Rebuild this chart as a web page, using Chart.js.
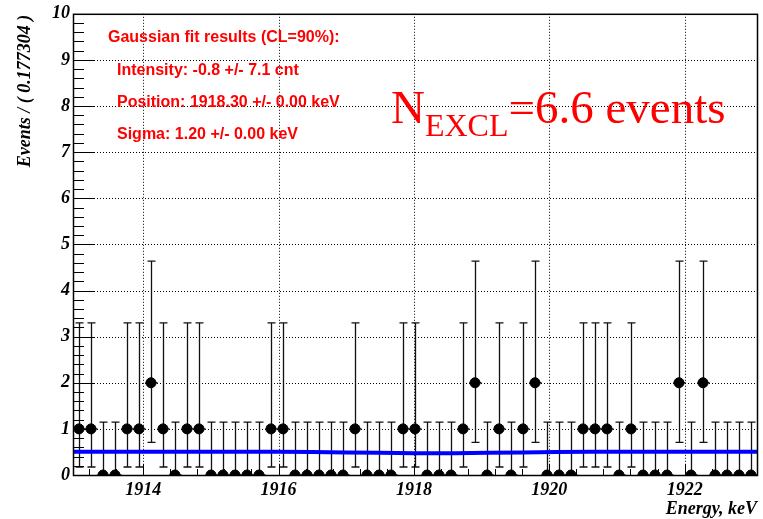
<!DOCTYPE html>
<html>
<head>
<meta charset="utf-8">
<script src="https://cdn.jsdelivr.net/npm/chart.js@4.4.1/dist/chart.umd.min.js"></script>
<style>
  html, body { margin: 0; padding: 0; background: #fff; }
  #wrap { width: 763px; height: 519px; }
</style>
</head>
<body>
<div id="wrap"><canvas id="spectrum" width="763" height="519"></canvas></div>
<script>
// binning of the energy spectrum
const binLow = 1912.963;
const binWidth = 0.177304;
const counts = [1, 1, 0, 0, 1, 1, 2, 1, 0, 1, 1, 0, 0, 0, 0, 0, 1, 1, 0, 0,
                0, 0, 0, 1, 0, 0, 0, 1, 1, 0, 0, 0, 1, 2, 0, 1, 0, 1, 2, 0,
                0, 0, 1, 1, 1, 0, 1, 0, 0, 0, 2, 0, 2, 0, 0, 0, 0];

// 68% Poisson interval for n = 0, 1, 2
const poissonLow = [0, 0.173, 0.708];
const poissonHigh = [1.148, 3.300, 4.638];

// fitted background + gaussian
const fitEnergy = [1912.963, 1916.0, 1916.5, 1917.0, 1917.5, 1918.0, 1918.3, 1918.6, 1919.1, 1919.6, 1920.1, 1920.6, 1923.069];
const fitLevel  = [0.505, 0.503, 0.498, 0.490, 0.480, 0.472, 0.470, 0.472, 0.480, 0.490, 0.498, 0.503, 0.505];

const xMajor = [1914, 1916, 1918, 1920, 1922];
const xMinorStep = 0.4;
const yMajor = [0, 1, 2, 3, 4, 5, 6, 7, 8, 9, 10];
const yMinorStep = 0.2;

const points = counts.map((n, i) => ({ x: binLow + (i + 0.5) * binWidth, y: n }));
const fitPoints = fitEnergy.map((e, i) => ({ x: e, y: fitLevel[i] }));

const axisFont = { family: 'Liberation Serif', style: 'italic', weight: 'bold', size: 18 };

const rootFrame = {
    id: 'rootFrame',
    beforeDatasetsDraw(chart) {
        const { ctx, chartArea: a, scales: { x, y } } = chart;
        ctx.save();
        // dotted grid
        ctx.strokeStyle = '#000';
        ctx.lineWidth = 1;
        ctx.setLineDash([1, 2]);
        ctx.beginPath();
        xMajor.forEach(v => {
            const px = Math.round(x.getPixelForValue(v)) + 0.5;
            ctx.moveTo(px, a.top);
            ctx.lineTo(px, a.bottom);
        });
        yMajor.slice(1, -1).forEach(v => {
            const py = Math.round(y.getPixelForValue(v)) + 0.5;
            ctx.moveTo(a.left, py);
            ctx.lineTo(a.right, py);
        });
        ctx.stroke();
        ctx.setLineDash([]);

        // error bars
        const halfBin = x.getPixelForValue(binLow + binWidth / 2) - x.getPixelForValue(binLow);
        ctx.strokeStyle = '#111';
        ctx.lineWidth = 1.3;
        ctx.beginPath();
        points.forEach((p, i) => {
            const n = counts[i];
            const px = Math.round(x.getPixelForValue(p.x)) + 0.5;
            const py = y.getPixelForValue(p.y);
            const lo = y.getPixelForValue(poissonLow[n]);
            const hi = y.getPixelForValue(poissonHigh[n]);
            ctx.moveTo(px, lo);
            ctx.lineTo(px, hi);
            ctx.moveTo(px - 4, hi);
            ctx.lineTo(px + 4, hi);
            ctx.moveTo(px - 4, lo);
            ctx.lineTo(px + 4, lo);
            ctx.moveTo(px - halfBin, py);
            ctx.lineTo(px + halfBin, py);
        });
        ctx.stroke();
        ctx.restore();
    },
    afterDatasetsDraw(chart) {
        const { ctx, chartArea: a, scales: { x, y } } = chart;
        ctx.save();
        ctx.strokeStyle = '#000';
        ctx.lineWidth = 1;
        ctx.beginPath();
        // y ticks, drawn inside the frame
        for (let v = 0; v <= 10.0001; v += yMinorStep) {
            const py = Math.round(y.getPixelForValue(v)) + 0.5;
            const isMajor = Math.abs(v - Math.round(v)) < 1e-6;
            ctx.moveTo(a.left, py);
            ctx.lineTo(a.left + (isMajor ? 22 : 11), py);
        }
        // x ticks
        for (let v = xMajor[0] - 2 * xMinorStep * 5; v <= x.max; v += xMinorStep) {
            if (v < x.min) continue;
            const px = Math.round(x.getPixelForValue(v)) + 0.5;
            const isMajor = xMajor.some(m => Math.abs(m - v) < 1e-6);
            ctx.moveTo(px, a.bottom);
            ctx.lineTo(px, a.bottom - (isMajor ? 11 : 6));
        }
        ctx.stroke();
        ctx.lineWidth = 1.5;
        ctx.strokeRect(a.left + 0.5, a.top + 0.5, a.right - a.left, a.bottom - a.top);
        ctx.restore();
    },
    afterDraw(chart) {
        const { ctx, chartArea: a } = chart;
        ctx.save();
        ctx.fillStyle = '#000';
        ctx.font = 'italic bold 18px "Liberation Serif"';
        ctx.textBaseline = 'middle';
        ctx.textAlign = 'right';
        ctx.translate(25, a.top + 1);
        ctx.rotate(-Math.PI / 2);
        ctx.fillText('Events / ( 0.177304 )', 0, 0);
        ctx.restore();

        ctx.save();
        ctx.fillStyle = '#000';
        ctx.font = 'italic bold 18px "Liberation Serif"';
        ctx.textBaseline = 'alphabetic';
        ctx.textAlign = 'right';
        ctx.fillText('Energy, keV', a.right, 514);

        // fit summary
        ctx.fillStyle = '#ff0000';
        ctx.textAlign = 'left';
        ctx.textBaseline = 'middle';
        ctx.font = 'bold 16px "Liberation Sans"';
        ctx.fillText('Gaussian fit results (CL=90%):', 108, 38);
        ctx.fillText('Intensity: -0.8 +/- 7.1 cnt', 117, 71);
        ctx.fillText('Position: 1918.30 +/- 0.00 keV', 117, 103);
        ctx.fillText('Sigma: 1.20 +/- 0.00 keV', 117, 135);

        ctx.textBaseline = 'alphabetic';
        ctx.font = '47px "Liberation Serif"';
        ctx.fillText('N', 391, 123);
        const nW = ctx.measureText('N').width;
        ctx.font = '32px "Liberation Serif"';
        ctx.fillText('EXCL', 391 + nW, 136);
        const sW = ctx.measureText('EXCL').width;
        ctx.font = '47px "Liberation Serif"';
        ctx.fillText('=6.6 events', 391 + nW + sW, 123);
        ctx.restore();
    }
};

new Chart(document.getElementById('spectrum'), {
    type: 'scatter',
    data: {
        datasets: [
            {
                type: 'line',
                data: fitPoints,
                borderColor: '#0000ff',
                borderWidth: 4,
                pointRadius: 0,
                fill: false,
                order: 0
            },
            {
                type: 'scatter',
                data: points,
                backgroundColor: '#000',
                borderColor: '#000',
                pointRadius: 5,
                pointHoverRadius: 5,
                order: 1
            }
        ]
    },
    options: {
        responsive: false,
        animation: false,
        events: [],
        layout: { padding: { top: 12, right: 6, left: 0, bottom: 0 } },
        plugins: { legend: { display: false }, tooltip: { enabled: false } },
        scales: {
            x: {
                type: 'linear',
                min: binLow,
                max: binLow + counts.length * binWidth,
                afterBuildTicks: s => { s.ticks = xMajor.map(v => ({ value: v })); },
                afterFit: s => { s.height = 44; },
                grid: { display: false, drawTicks: false },
                border: { display: false },
                ticks: { font: axisFont, color: '#000', padding: 5, maxRotation: 0, callback: v => String(v) }
            },
            y: {
                min: 0,
                max: 10,
                afterBuildTicks: s => { s.ticks = yMajor.map(v => ({ value: v })); },
                afterFit: s => { s.width = 73; },
                grid: { display: false, drawTicks: false },
                border: { display: false },
                ticks: { font: axisFont, color: '#000', padding: 3, callback: v => String(v) }
            }
        }
    },
    plugins: [rootFrame]
});
</script>
</body>
</html>
